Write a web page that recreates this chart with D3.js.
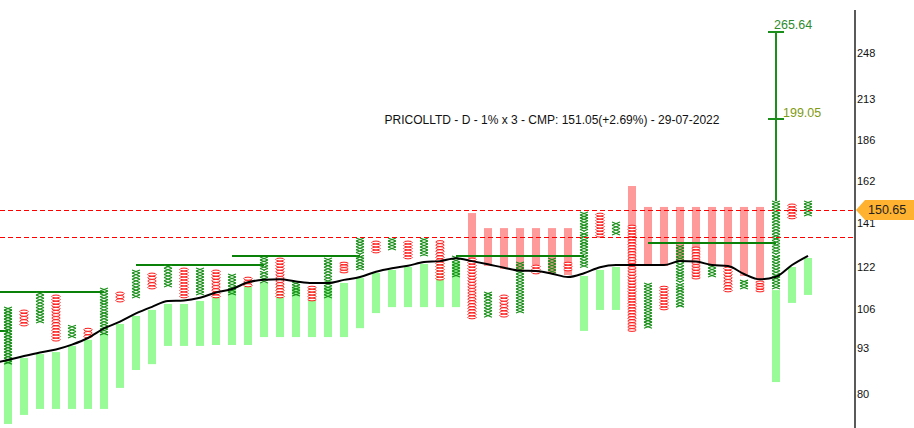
<!DOCTYPE html>
<html>
<head>
<meta charset="utf-8">
<style>
  body { margin: 0; background: #fff; }
  svg { display: block; font-family: Arial, 'Liberation Sans', sans-serif; }
  .axis .tick text { font-size: 11px; fill: #111; }
</style>
</head>
<body>
<svg width="914" height="428"></svg>
<script src="https://d3js.org/d3.v7.min.js"></script>
<script>
// point & figure columns, X on even index, O on odd
const colType = d3.range(51).map(i => i % 2 === 0 ? "X" : "O");
const colLow = [88.2,100.1,101.1,95.2,96.2,96.2,97.2,108.4,109.9,113.2,114.0,109.9,111.0,109.9,111.0,114.0,115.5,109.9,110.6,108.8,
  109.9,119.4,120.6,127.6,128.9,125.1,126.3,116.6,117.8,102.5,103.1,103.1,104.5,119.0,119.4,120.2,121.6,134.5,135.5,98.3,
  99.4,105.6,106.6,117.0,117.8,112.1,113.2,112.1,113.2,142.9,144.3];
const colHigh = [106.6,105.6,112.1,111.0,100.4,99.4,113.6,112.1,120.6,119.4,122.6,121.4,121.4,120.6,119.0,117.8,125.9,125.5,115.9,114.3,
  125.5,123.8,134.1,132.8,134.1,132.8,134.1,133.0,126.3,125.5,112.1,111.0,123.8,122.6,125.5,123.8,146.2,145.7,141.4,140.0,
  115.5,114.3,131.0,130.2,122.6,121.8,116.6,116.3,151.7,150.2,151.7];

// floating indicator bars behind the columns
const barLow = [72.3,74.5,76.0,76.0,76.0,76.0,76.0,81.5,86.5,88.2,93.7,93.7,93.7,94.0,94.0,94.0,96.5,96.5,96.5,96.5,
  96.5,96.5,99.4,104.5,106.6,106.6,106.6,106.6,106.6,123.4,122.2,121.0,120.6,120.2,119.4,118.6,98.5,105.6,105.6,122.6,
  122.2,122.2,124.7,123.8,122.6,121.8,118.2,116.7,83.1,108.1,111.0];
const barHigh = [89.1,90.0,91.2,91.8,93.7,95.6,97.5,100.8,103.5,105.6,107.7,107.7,108.8,110.2,113.2,114.7,115.5,115.1,114.0,114.0,
  114.0,115.5,117.4,119.4,120.6,121.8,123.0,123.4,123.8,145.7,138.6,138.6,138.6,138.6,138.6,138.6,118.2,120.6,121.8,159.4,
  148.7,148.7,148.7,148.7,148.7,148.7,148.7,148.7,112.8,121.8,125.5];
const barColor = "ggggggggggggggggggggggggggggg" + "rrrrrrr" + "ggg" + "rrrrrrrrr" + "ggg";

// moving average, first value belongs to column -1
const maLine = [88.5,89.4,90.6,91.7,92.6,94.1,96.2,99.3,101.6,104.4,106.7,108.8,109.0,110.0,111.9,113.2,115.8,116.7,116.9,116.1,
  115.5,115.5,116.7,117.8,119.9,121.3,122.3,123.8,124.2,125.4,124.2,122.9,121.5,120.3,120.2,119.1,117.8,119.3,121.7,122.6,
  122.6,122.6,122.6,124.2,124.0,122.6,122.2,119.0,116.9,117.9,122.6,126.4];

// horizontal trend lines
const trendFrom = [-3, -3, 8, 14, 28, 40];
const trendTo = [0, 6, 16, 22, 36, 48];
const trendPrice = [98.5, 112.0, 122.7, 126.3, 126.4, 131.8];

const priceLines = [147.2, 134.6];
const lastPrice = "150.65";
const targetCol = 48;
const targets = [265.64, 199.05];
const targetColors = ["#2e8b2e", "#7f9a14"];
const tickVals = [248, 213, 186, 162, 141, 122, 106, 93, 80];
const title = "PRICOLLTD - D - 1% x 3 - CMP: 151.05(+2.69%) - 29-07-2022";

const svg = d3.select("svg");
const axisX = 855;

const x = d3.scaleLinear().domain([0, 50]).range([8, 808]);
const y = d3.scaleLog().domain([80, 248]).range([393.5, 53]);
const crisp = v => Math.round(v) + 0.5;

svg.append("clipPath").attr("id", "plot")
  .append("rect").attr("x", 0).attr("y", 0).attr("width", axisX).attr("height", 428);

const plot = svg.append("g").attr("clip-path", "url(#plot)");

// bars
plot.append("g").selectAll("rect")
  .data(d3.range(51))
  .join("rect")
  .attr("x", i => x(i) - 4)
  .attr("width", 8)
  .attr("y", i => y(barHigh[i]))
  .attr("height", i => y(barLow[i]) - y(barHigh[i]))
  .attr("fill", i => barColor[i] === "g" ? "#98fb98" : "#ff9a9a");

// trend lines
plot.append("g").selectAll("line")
  .data(d3.range(trendPrice.length))
  .join("line")
  .attr("x1", i => x(trendFrom[i]))
  .attr("x2", i => x(trendTo[i]))
  .attr("y1", i => Math.round(y(trendPrice[i])))
  .attr("y2", i => Math.round(y(trendPrice[i])))
  .attr("stroke", "#0a820a")
  .attr("stroke-width", 2);

// boxes of each column
let boxes = [];
colType.forEach((t, i) => {
  let n = Math.max(1, Math.round(Math.log(colHigh[i] / colLow[i]) / Math.log(1.01)));
  let r = Math.pow(colHigh[i] / colLow[i], 1 / n);
  for (let k = 0; k < n; k++) {
    boxes.push({ t: t, i: i, lo: colLow[i] * Math.pow(r, k), hi: colLow[i] * Math.pow(r, k + 1) });
  }
});

plot.append("g").selectAll("path")
  .data(boxes.filter(b => b.t === "X"))
  .join("path")
  .attr("d", b => {
    let cx = x(b.i), yt = y(b.hi), yb = y(b.lo);
    return `M${cx - 4},${yt}L${cx + 4},${yb}M${cx + 4},${yt}L${cx - 4},${yb}`;
  })
  .attr("stroke", "#1a8f1a")
  .attr("stroke-width", 1.1)
  .attr("fill", "none");

plot.append("g").selectAll("ellipse")
  .data(boxes.filter(b => b.t === "O"))
  .join("ellipse")
  .attr("cx", b => x(b.i))
  .attr("cy", b => (y(b.hi) + y(b.lo)) / 2)
  .attr("rx", 4.2)
  .attr("ry", b => (y(b.lo) - y(b.hi)) / 2 - 0.1)
  .attr("stroke", "#ff1a1a")
  .attr("stroke-width", 1)
  .attr("fill", "#fff");

// moving average
const ma = d3.line()
  .x((d, i) => x(i - 1))
  .y(d => y(d))
  .curve(d3.curveMonotoneX);

plot.append("path")
  .datum(maLine)
  .attr("d", ma)
  .attr("fill", "none")
  .attr("stroke", "#000")
  .attr("stroke-width", 2);

// dashed price lines
plot.append("g").selectAll("line")
  .data(priceLines)
  .join("line")
  .attr("x1", 0).attr("x2", axisX)
  .attr("y1", d => crisp(y(d))).attr("y2", d => crisp(y(d)))
  .attr("stroke", "#ff0000")
  .attr("stroke-width", 1)
  .attr("stroke-dasharray", "5,3");

// target projection
const tx = x(targetCol);
svg.append("line")
  .attr("x1", tx).attr("x2", tx)
  .attr("y1", y(colHigh[targetCol])).attr("y2", y(targets[0]))
  .attr("stroke", "#1a8f1a").attr("stroke-width", 2);

svg.append("g").selectAll("line")
  .data(targets)
  .join("line")
  .attr("x1", tx - 8).attr("x2", tx + 8)
  .attr("y1", d => Math.round(y(d))).attr("y2", d => Math.round(y(d)))
  .attr("stroke", "#1a8f1a").attr("stroke-width", 2);

svg.append("g").selectAll("text")
  .data(targets)
  .join("text")
  .attr("x", (d, i) => i === 0 ? tx - 2 : tx + 7)
  .attr("y", (d, i) => y(d) - (i === 0 ? 3 : 2))
  .attr("font-size", 12.5)
  .attr("fill", (d, i) => targetColors[i])
  .text(d => d.toFixed(2));

// title
svg.append("text")
  .attr("x", 552)
  .attr("y", 124)
  .attr("text-anchor", "middle")
  .attr("font-size", 12)
  .attr("fill", "#111")
  .text(title);

// right axis
svg.append("line")
  .attr("x1", axisX).attr("x2", axisX)
  .attr("y1", 10).attr("y2", 428)
  .attr("stroke", "#000").attr("stroke-width", 1.3);

svg.append("g")
  .attr("class", "axis")
  .attr("transform", `translate(${axisX},0)`)
  .call(d3.axisRight(y).tickValues(tickVals).tickFormat(d3.format("d")).tickSize(0).tickPadding(2))
  .call(g => g.select(".domain").remove());

// last price marker
const py = Math.round(y(priceLines[0]));
svg.append("path")
  .attr("d", `M${axisX + 1},${py}L${axisX + 10},${py - 10}L914,${py - 10}L914,${py + 10}L${axisX + 10},${py + 10}Z`)
  .attr("fill", "#ffb230");

svg.append("text")
  .attr("x", axisX + 13)
  .attr("y", py)
  .attr("dy", "0.35em")
  .attr("font-size", 12.5)
  .attr("fill", "#222")
  .text(lastPrice);
</script>
</body>
</html>
